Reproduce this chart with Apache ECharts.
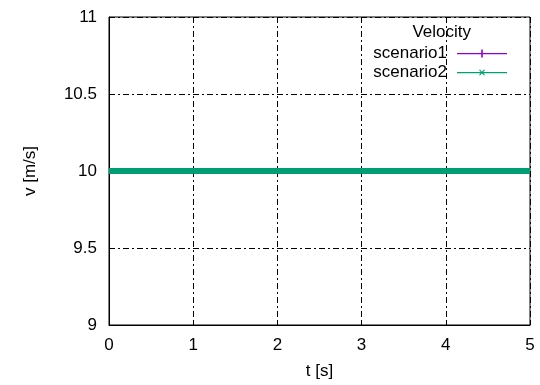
<!DOCTYPE html>
<html><head><meta charset="utf-8">
<script src="https://cdn.jsdelivr.net/npm/echarts@6/dist/echarts.min.js"></script>
<style>html,body{margin:0;padding:0;background:#fff}#c{width:540px;height:385px}</style>
</head><body><div id="c"></div>
<script>
var times = [0,0.1,0.2,0.3,0.4,0.5,0.6,0.7,0.8,0.9,1,1.1,1.2,1.3,1.4,1.5,1.6,1.7,1.8,1.9,2,2.1,2.2,2.3,2.4,2.5,2.6,2.7,2.8,2.9,3,3.1,3.2,3.3,3.4,3.5,3.6,3.7,3.8,3.9,4,4.1,4.2,4.3,4.4,4.5,4.6,4.7,4.8,4.9,5];
var scenario1 = [10,10,10,10,10,10,10,10,10,10,10,10,10,10,10,10,10,10,10,10,10,10,10,10,10,10,10,10,10,10,10,10,10,10,10,10,10,10,10,10,10,10,10,10,10,10,10,10,10,10,10];
var scenario2 = [10,10,10,10,10,10,10,10,10,10,10,10,10,10,10,10,10,10,10,10,10,10,10,10,10,10,10,10,10,10,10,10,10,10,10,10,10,10,10,10,10,10,10,10,10,10,10,10,10,10,10];
var seriesNames = ['scenario1','scenario2'];
var legendTitle = 'Velocity';
var xName = 't [s]', yName = 'v [m/s]';

var font = 'Liberation Sans, Arial, sans-serif';
var plusPath = 'path://M0,4 L50,4 L50,5.2 L0,5.2 Z M24.2,0.5 L25.8,0.5 L25.8,8.5 L24.2,8.5 Z';
var crossPath = 'path://M0,4 L50,4 L50,5.2 L0,5.2 Z M22,2 L23,1.5 L28,7 L27,7.5 Z M27,1.5 L28,2 L23,7.5 L22,7 Z';
function pairs(ys){ return times.map(function(t,i){return [t, ys[i]];}); }
var gridStyle = {show:true, lineStyle:{color:'#000', width:1, type:[6,3,2,3]}};
var chart = echarts.init(document.getElementById('c'));
chart.setOption({
  animation:false,
  textStyle:{fontFamily:font},
  grid:{left:109, right:10, top:17, bottom:58, show:true, borderColor:'#000', borderWidth:1, backgroundColor:'transparent'},
  title:{text:legendTitle, right:64, top:19, textStyle:{fontFamily:font, fontSize:17, fontWeight:'normal', color:'#000'}},
  legend:{
    orient:'vertical', right:28, top:40, align:'right', itemGap:2,
    itemWidth:50, itemHeight:9,
    textStyle:{fontFamily:font, fontSize:17, color:'#000', padding:[0,5,0,0]},
    data:[{name:seriesNames[0], icon:plusPath},{name:seriesNames[1], icon:crossPath}]
  },
  xAxis:{type:'value', min:0, max:5, interval:1,
    name:xName, nameLocation:'middle', nameGap:38, nameTextStyle:{fontFamily:font, fontSize:17, color:'#000'},
    axisLine:{lineStyle:{color:'#000'}}, axisTick:{inside:true, length:5, lineStyle:{color:'#000'}},
    axisLabel:{color:'#000', fontSize:17, fontFamily:font, margin:12},
    splitLine:gridStyle},
  yAxis:{type:'value', min:9, max:11, interval:0.5,
    name:yName, nameLocation:'middle', nameGap:70, nameRotate:90, nameTextStyle:{fontFamily:font, fontSize:17, color:'#000'},
    axisLine:{lineStyle:{color:'#000'}}, axisTick:{inside:true, length:5, lineStyle:{color:'#000'}},
    axisLabel:{color:'#000', fontSize:17, fontFamily:font, margin:12},
    splitLine:gridStyle},
  series:[
    {name:seriesNames[0], type:'line', data:pairs(scenario1), color:'#9400d3', symbol:'none', lineStyle:{width:6, color:'#9400d3'}, z:2},
    {name:seriesNames[1], type:'line', data:pairs(scenario2), color:'#009e73', symbol:'none', lineStyle:{width:6, color:'#009e73'}, z:3}
  ]
});
</script></body></html>
